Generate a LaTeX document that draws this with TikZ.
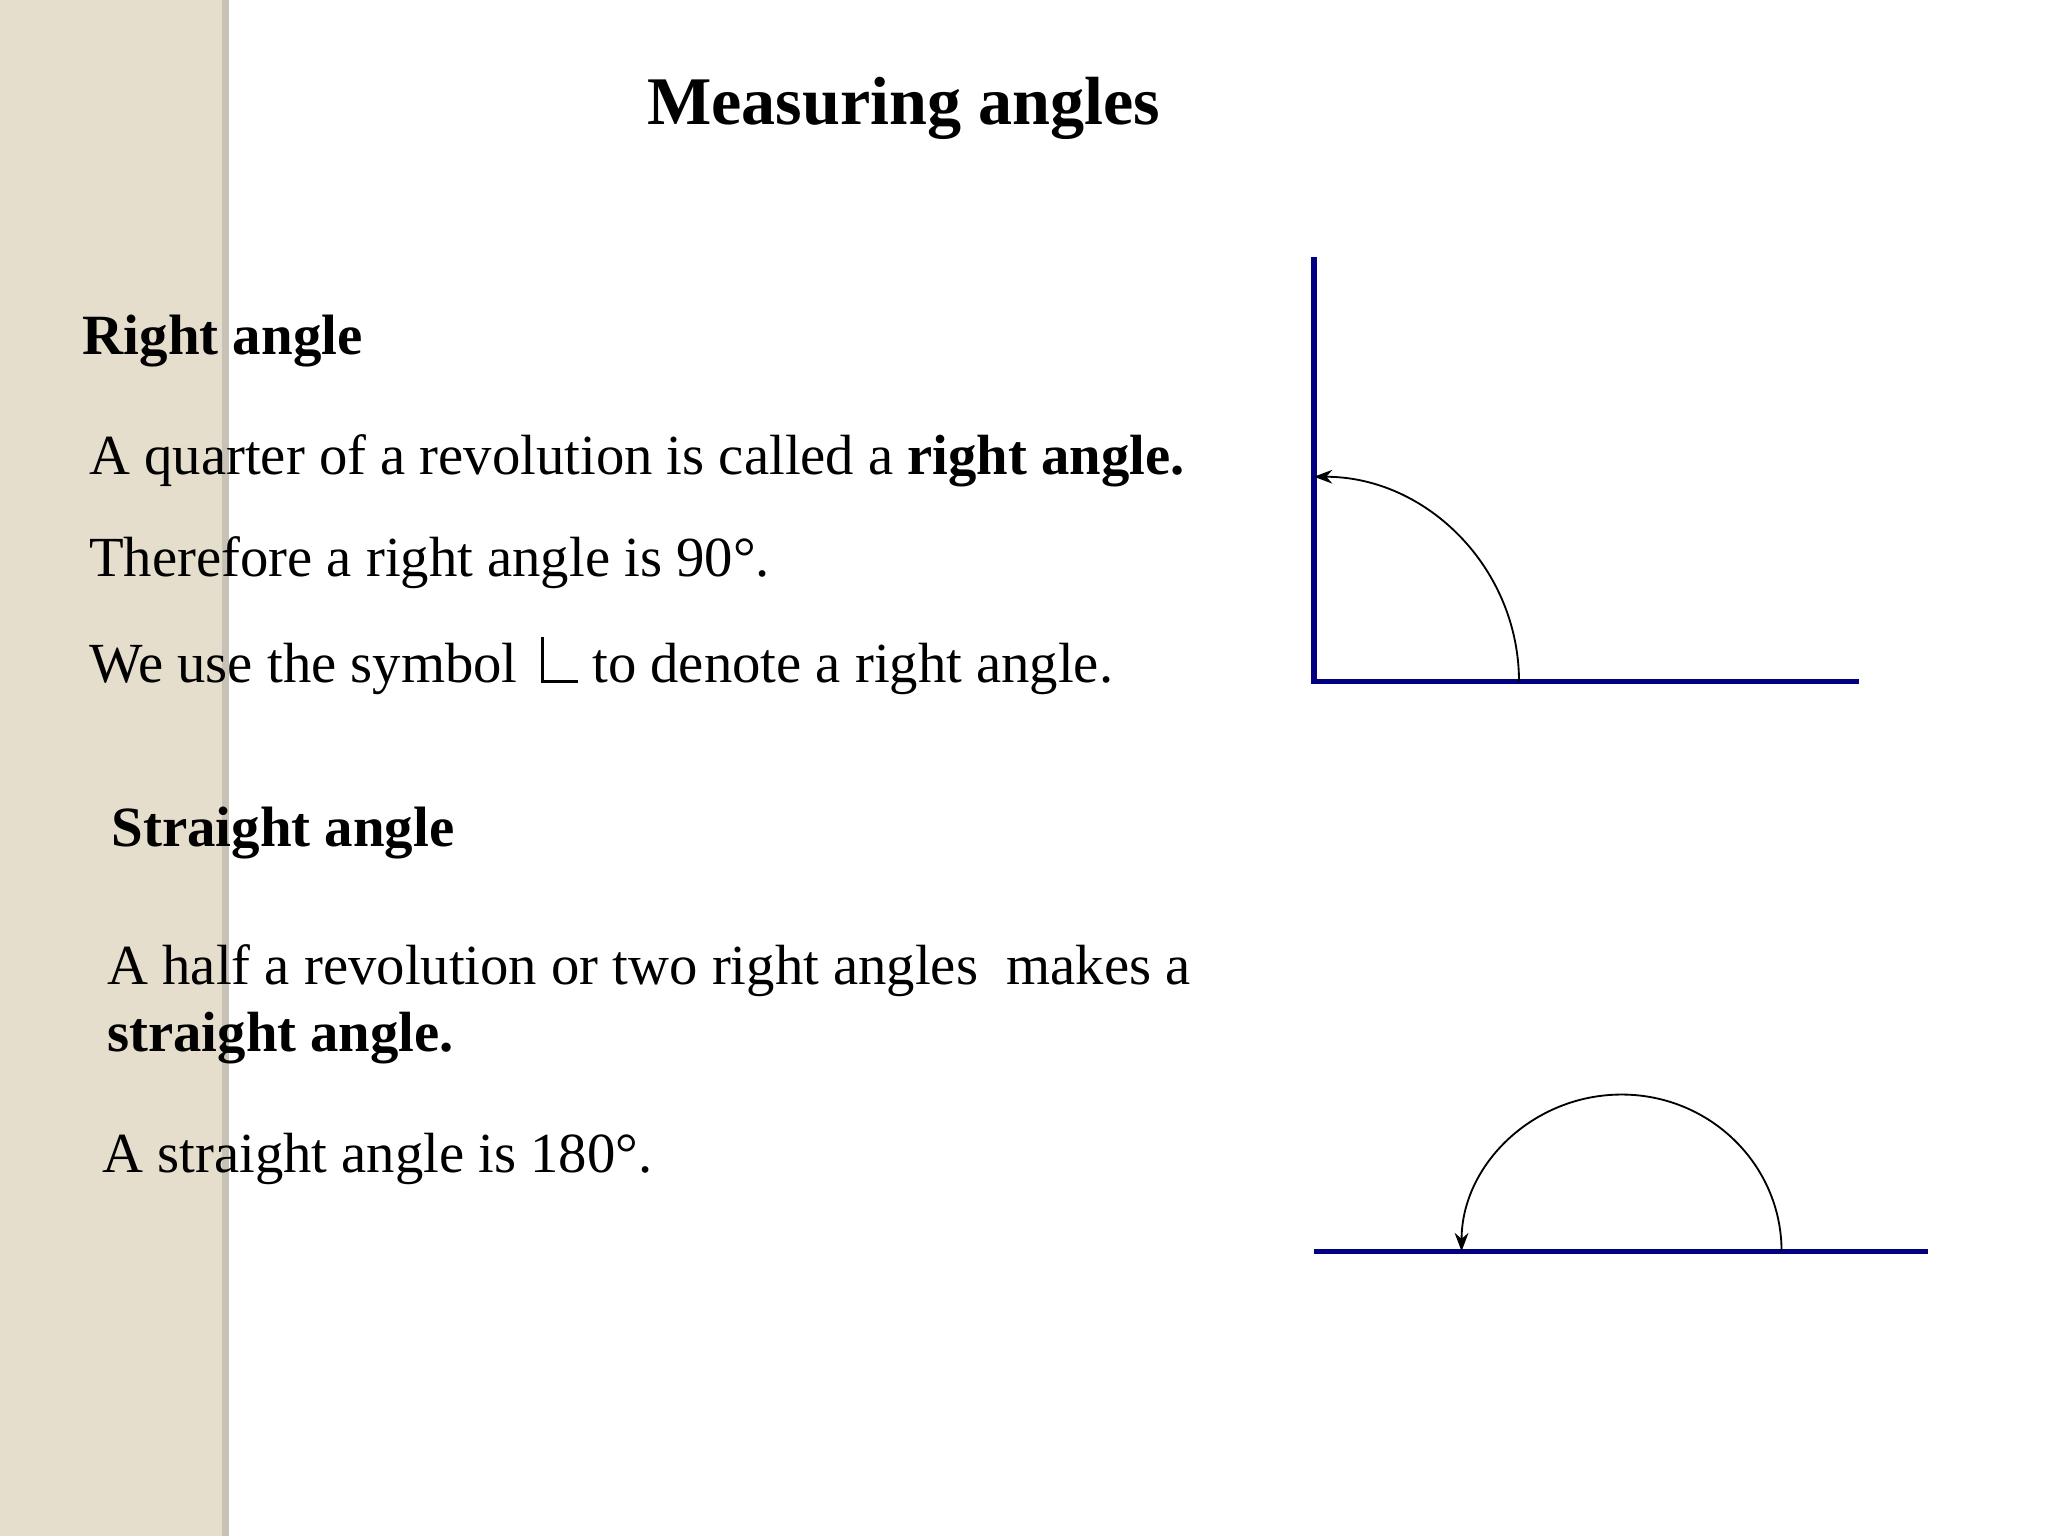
\documentclass[tikz,border=0pt]{standalone}
\usepackage{fontspec}
\setmainfont{Liberation Serif}
\usetikzlibrary{arrows.meta}
\definecolor{strip}{RGB}{230,222,204}
\definecolor{navyline}{RGB}{0,0,128}
\tikzset{
  txt/.style={anchor=west,inner sep=0,font=\fontsize{24.7}{29}\selectfont},
  head/.style={anchor=west,inner sep=0,font=\fontsize{24.8}{29}\selectfont\bfseries},
  ray/.style={navyline,line width=2.3pt},
  turn/.style={black,line width=0.8pt,-{Stealth[length=8pt,width=6pt]}}
}
\begin{document}
\begin{tikzpicture}[x=0.02cm,y=-0.02cm]
\useasboundingbox (0,0) rectangle (1568,1176);
\fill[white] (0,0) rectangle (1568,1176);
\fill[strip] (0,0) rectangle (170,1176);
\fill[strip!70!gray] (170,0) rectangle (175,1176);
\node[inner sep=0,font=\fontsize{29.7}{34}\selectfont\bfseries] (title) at (692,83) {Measuring angles};
\node[head] (h1) at (63,261) {Right angle};
\node[txt] (t1) at (68,353) {A quarter of a revolution is called a \textbf{right angle.}};
\node[txt] (t2) at (68,431) {Therefore a right angle is 90°.};
\node[txt] (t3) at (68,510) {We use the symbol \,\vrule height 0.8em depth 0pt width 0.05em\vrule height 0.05em depth 0pt width 0.6em\ to denote a right angle.};
\node[head] (h2) at (85,638) {Straight angle};
\node[txt] (t4) at (82,743) {A half a revolution or two right angles \ makes a};
\node[txt,font=\fontsize{24.7}{29}\selectfont\bfseries] (t5) at (82,795) {straight angle.};
\node[txt] (t6) at (78,887) {A straight angle is 180°.};
% right angle
\coordinate (o1) at (1006,522);
\draw[ray] (1006,197) -- (o1) -- (1423,522);
\draw[turn] (1163,522) arc[start angle=0,end angle=-90,radius=157];
% straight angle
\draw[ray] (1006,958) -- (1476,958);
\draw[turn] (1364,958) arc[start angle=0,end angle=-180,x radius=122.5,y radius=120];
\end{tikzpicture}
\end{document}
